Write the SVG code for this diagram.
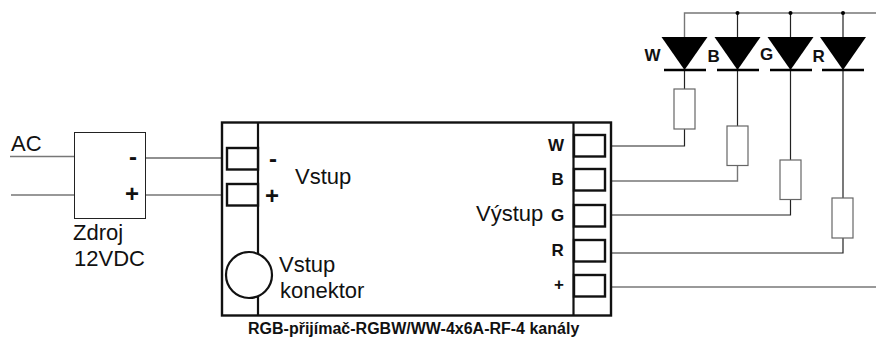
<svg xmlns="http://www.w3.org/2000/svg" width="876" height="337" viewBox="0 0 876 337">
<style>
text{font-family:"Liberation Sans",Arial,sans-serif;fill:#111}
.t{font-size:22px}
.b{font-size:17px;font-weight:bold}
.s{font-size:24px;font-weight:bold}
.w{fill:none;stroke:#222;stroke-width:1.2}
.g{fill:none;stroke:#777;stroke-width:1.4}
.p{fill:#fff;stroke:#111;stroke-width:2.4}
.r{fill:#fff;stroke:#666;stroke-width:1.2}
.bar{stroke:#000;stroke-width:2.4}
</style>
<rect width="876" height="337" fill="#fff"/>
<g id="connectors">
<path class="g" d="M10 156.5H74.5M11 195H74.5M146 195H227"/>
<path class="w" d="M146 158H227"/>
<path class="g" d="M684.5 37V13H876"/>
<path class="w" d="M737.5 13V70M790.5 13V70M843 13V70"/>
<path class="w" d="M684.5 70V89M684.5 129V146H605"/>
<path class="w" d="M737.5 70V126"/>
<path class="g" d="M737.5 165.5V181H605"/>
<path class="w" d="M790.5 70V160M790.5 199.5V215H605"/>
<path class="w" d="M843 70V198M843 238V253H605"/>
<path class="g" d="M605 287H876"/>
<circle cx="737.5" cy="13" r="2"/><circle cx="790.5" cy="13" r="2"/><circle cx="843" cy="13" r="2"/>
</g>
<g id="source">
<rect x="74.5" y="132.5" width="71" height="86" fill="#fff" stroke="#222" stroke-width="1"/>
<text class="t" x="11" y="151">AC</text>
<text class="s" x="129" y="165">-</text>
<text class="s" x="125" y="202">+</text>
<text class="t" x="73" y="240">Zdroj</text>
<text class="t" x="74" y="265.5">12VDC</text>
</g>
<g id="receiver">
<rect x="222" y="122.5" width="389" height="193" fill="#fff" stroke="#111" stroke-width="2.4"/>
<path d="M258 122.5V315.5M573.5 122.5V315.5" stroke="#111" stroke-width="2.2" fill="none"/>
<rect class="p" x="227" y="148" width="31" height="21.5"/>
<rect class="p" x="227" y="184" width="31" height="21.5"/>
<circle cx="249" cy="275" r="23" fill="#fff" stroke="#111" stroke-width="2.2"/>
<rect class="p" x="574" y="135" width="31" height="21.5"/>
<rect class="p" x="574" y="169" width="31" height="21.5"/>
<rect class="p" x="574" y="205" width="31" height="21.5"/>
<rect class="p" x="574" y="240" width="31" height="21.5"/>
<rect class="p" x="574" y="275" width="31" height="21.5"/>
<text class="s" x="269" y="167">-</text>
<text class="s" x="265" y="204">+</text>
<text class="t" x="295" y="184">Vstup</text>
<text class="t" x="279" y="271.5">Vstup</text>
<text class="t" x="280" y="297.5">konektor</text>
<text class="t" x="476" y="220.5">Výstup</text>
<text class="b" x="548" y="150.5">W</text>
<text class="b" x="551.5" y="185">B</text>
<text class="b" x="551" y="221">G</text>
<text class="b" x="551.5" y="255.5">R</text>
<text class="b" x="554" y="290">+</text>
<text x="248" y="333.5" font-size="16" font-weight="bold">RGB-přijímač-RGBW/WW-4x6A-RF-4 kanály</text>
</g>
<g id="led-w">
<path d="M661.5 37H707.5L684.5 70Z"/><path class="bar" d="M664 70H706"/>
<text class="b" x="644.5" y="61">W</text>
<rect class="r" x="674" y="89" width="21" height="40"/>
</g>
<g id="led-b">
<path d="M714.5 37H760.5L737.5 70Z"/><path class="bar" d="M717 70H759"/>
<text class="b" x="707.5" y="61.5">B</text>
<rect class="r" x="727" y="126" width="21" height="39.5"/>
</g>
<g id="led-g">
<path d="M767.5 37H813.5L790.5 70Z"/><path class="bar" d="M770 70H812"/>
<text class="b" x="760" y="60">G</text>
<rect class="r" x="780" y="160" width="21" height="39.5"/>
</g>
<g id="led-r">
<path d="M820 37H866L843 70Z"/><path class="bar" d="M822 70H864"/>
<text class="b" x="812.5" y="61.5">R</text>
<rect class="r" x="832" y="198" width="21" height="40"/>
</g>
</svg>
